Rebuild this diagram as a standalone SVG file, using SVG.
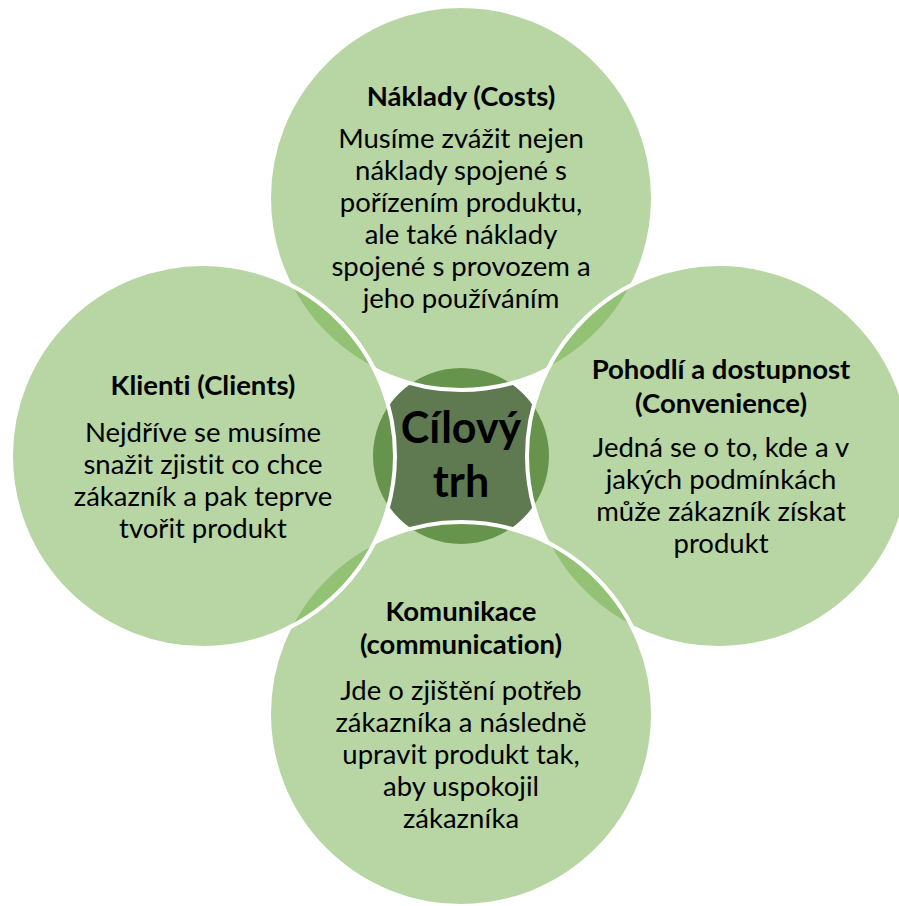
<svg xmlns="http://www.w3.org/2000/svg" width="899" height="906" viewBox="0 0 899 906">
  <style>
    .sat { fill: #70AD47; fill-opacity: 0.5; stroke: #FFFFFF; stroke-width: 4; }
    .hub { fill: #5F7A50; stroke: #FFFFFF; stroke-width: 4; }
    text { font-family: Lato, "Liberation Sans", sans-serif; fill: #000000; text-anchor: middle; font-variant-ligatures: none; font-feature-settings: "liga" 0, "clig" 0; }
    .h { font-size: 27.5px; font-weight: bold; }
    .b { font-size: 27.5px; }
    .c { font-size: 43px; font-weight: bold; }
  </style>
  <rect width="899" height="906" fill="#FFFFFF"/>

  <!-- central hub, drawn first so the satellites lie over its rim -->
  <g id="node-center">
    <circle class="hub" cx="461" cy="456" r="90"/>
    <text class="c" x="461" y="443">Cílový</text>
    <text class="c" x="461" y="497">trh</text>
  </g>

  <!-- satellites, clockwise from the top -->
  <g id="node-costs">
    <circle class="sat" cx="461" cy="198" r="192"/>
    <text class="h" x="461" y="106">Náklady (Costs)</text>
    <text class="b" x="461" y="148">Musíme zvážit nejen</text>
    <text class="b" x="461" y="180">náklady spojené s</text>
    <text class="b" x="461" y="212">pořízením produktu,</text>
    <text class="b" x="461" y="244">ale také náklady</text>
    <text class="b" x="461" y="276">spojené s provozem a</text>
    <text class="b" x="461" y="308">jeho používáním</text>
  </g>

  <g id="node-convenience">
    <circle class="sat" cx="719" cy="456" r="192"/>
    <text class="h" x="721" y="379">Pohodlí a dostupnost</text>
    <text class="h" x="721" y="413">(Convenience)</text>
    <text class="b" x="721" y="457">Jedná se o to, kde a v</text>
    <text class="b" x="721" y="489">jakých podmínkách</text>
    <text class="b" x="721" y="521">může zákazník získat</text>
    <text class="b" x="721" y="553">produkt</text>
  </g>

  <g id="node-communication">
    <circle class="sat" cx="461" cy="714" r="192"/>
    <text class="h" x="461" y="621">Komunikace</text>
    <text class="h" x="461" y="654">(communication)</text>
    <text class="b" x="461" y="700">Jde o zjištění potřeb</text>
    <text class="b" x="461" y="732">zákazníka a následně</text>
    <text class="b" x="461" y="764">upravit produkt tak,</text>
    <text class="b" x="461" y="796">aby uspokojil</text>
    <text class="b" x="461" y="828">zákazníka</text>
  </g>

  <g id="node-clients">
    <circle class="sat" cx="203" cy="456" r="192"/>
    <text class="h" x="203" y="395">Klienti (Clients)</text>
    <text class="b" x="203" y="442">Nejdříve se musíme</text>
    <text class="b" x="203" y="474">snažit zjistit co chce</text>
    <text class="b" x="203" y="506">zákazník a pak teprve</text>
    <text class="b" x="203" y="538">tvořit produkt</text>
  </g>
</svg>
